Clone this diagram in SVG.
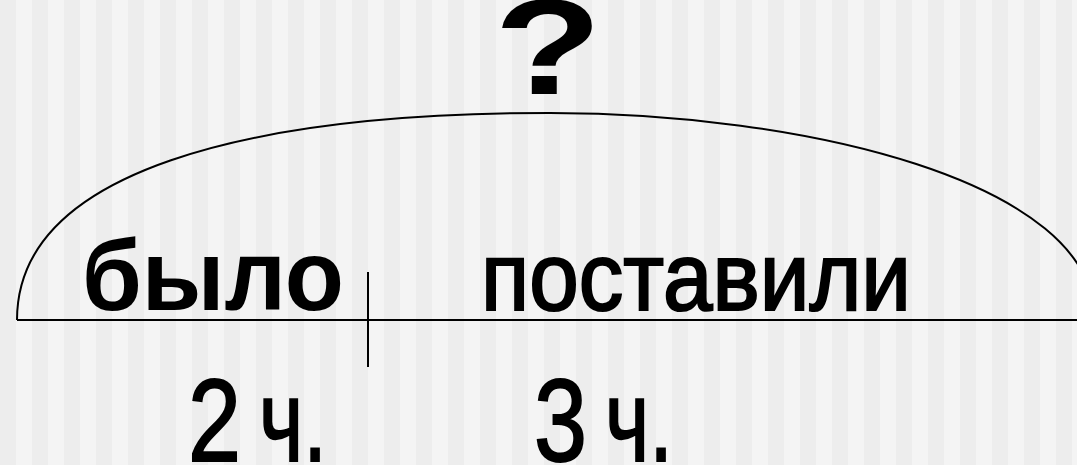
<svg xmlns="http://www.w3.org/2000/svg" width="1077" height="465" viewBox="0 0 1077 465">
  <style>
    .ln { fill: none; stroke: #000; stroke-width: 2; }
    .bold { font-family: "Liberation Sans", Arial, sans-serif; font-weight: bold; fill: #000; }
    .reg { font-family: "Liberation Sans", Arial, sans-serif; font-weight: normal; fill: #000; stroke: #000; stroke-width: 2.2; }
    .num { font-family: "Liberation Sans", Arial, sans-serif; font-weight: normal; font-size: 117px; fill: #000; stroke: #000; stroke-width: 2; }
  </style>
  <defs>
    <pattern id="stripes" x="0" y="0" width="32" height="465" patternUnits="userSpaceOnUse">
      <rect x="0" y="0" width="16" height="465" fill="#ededed"/>
      <rect x="16" y="0" width="16" height="465" fill="#f4f4f4"/>
    </pattern>
  </defs>
  <rect x="0" y="0" width="1077" height="465" fill="url(#stripes)"/>

  <g id="connectors">
    <path class="ln" d="M17,320 C17,170 250,113 550,113 C800,113 1095,180 1095,320"/>
    <line class="ln" x1="17" y1="320" x2="1077" y2="320" stroke-width="2.5"/>
    <line class="ln" x1="368" y1="272" x2="368" y2="367"/>
  </g>

  <g id="question">
    <text class="bold" font-size="136" x="494" y="94" textLength="108" lengthAdjust="spacingAndGlyphs">?</text>
  </g>

  <g id="bylo">
    <text class="bold" font-size="100" x="82" y="310" textLength="262" lengthAdjust="spacingAndGlyphs">было</text>
  </g>

  <g id="postavili">
    <text class="reg" font-size="96" x="481" y="310" textLength="430" lengthAdjust="spacingAndGlyphs">поставили</text>
  </g>

  <g id="two-hours">
    <text class="num" x="188" y="461" textLength="53" lengthAdjust="spacingAndGlyphs">2</text>
    <text class="num" x="259" y="461" textLength="68" lengthAdjust="spacingAndGlyphs">ч.</text>
  </g>

  <g id="three-hours">
    <text class="num" x="534" y="461" textLength="53" lengthAdjust="spacingAndGlyphs">3</text>
    <text class="num" x="605" y="461" textLength="68" lengthAdjust="spacingAndGlyphs">ч.</text>
  </g>
</svg>
